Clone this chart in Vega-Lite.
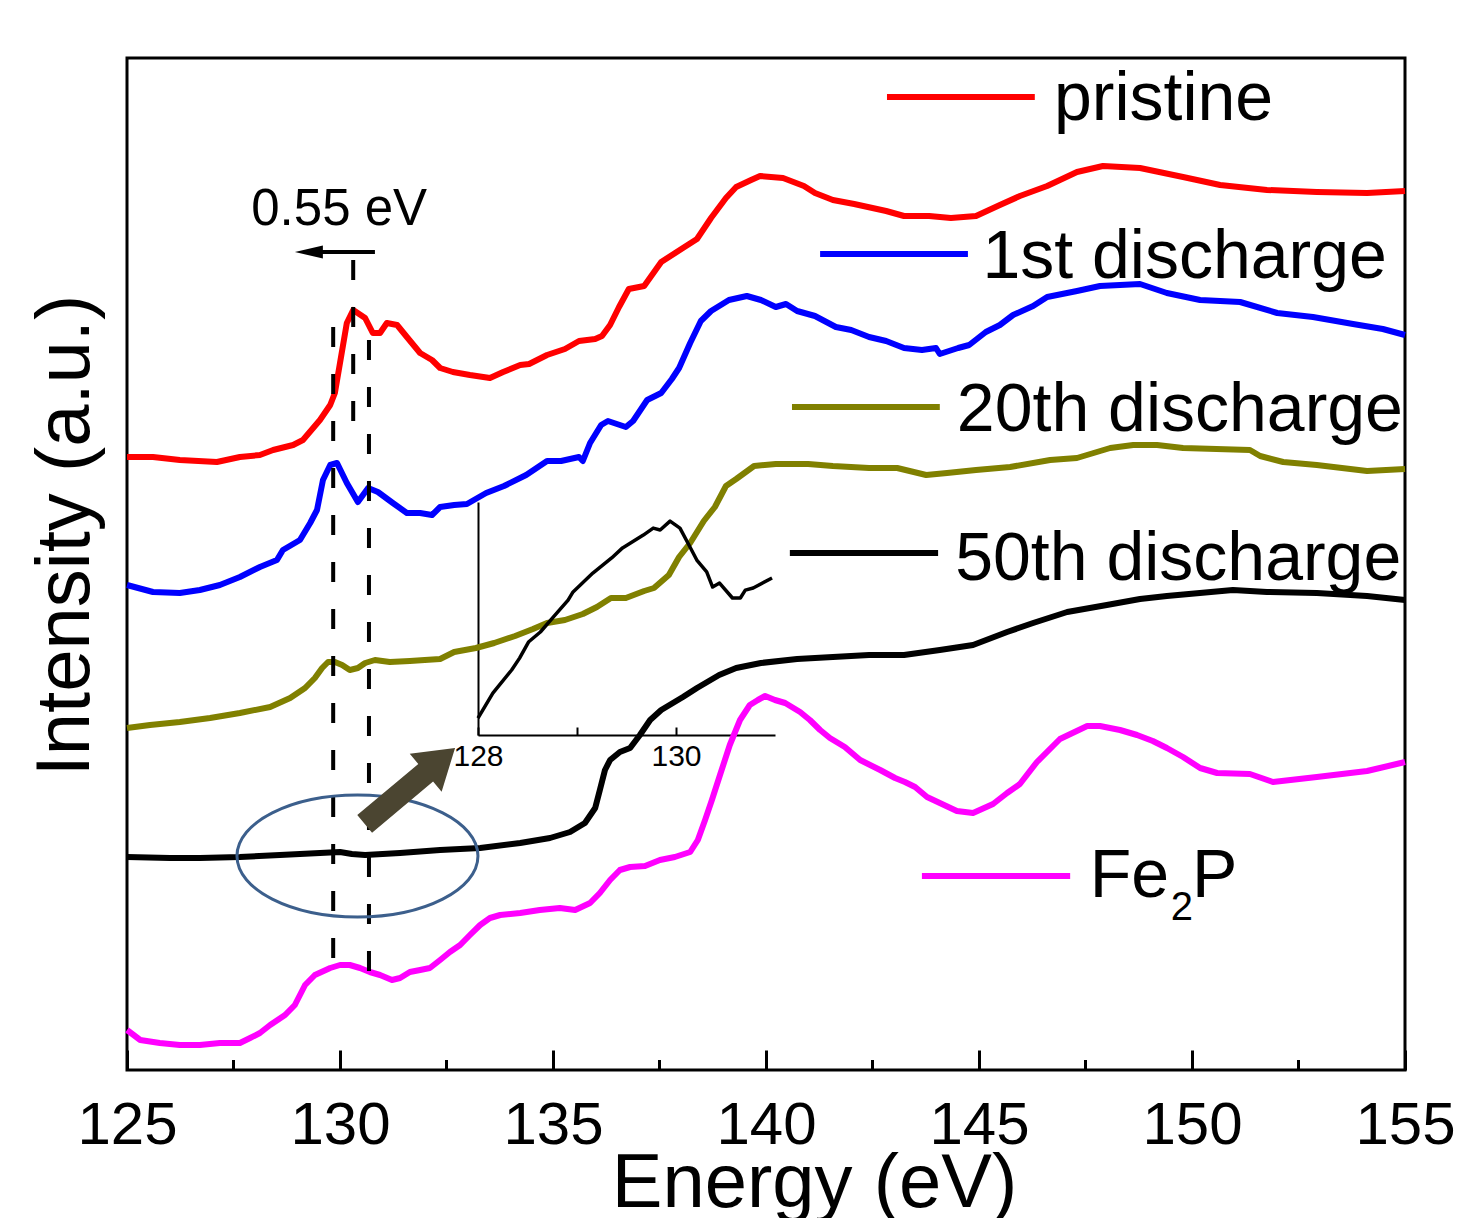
{
  "$schema": "https://vega.github.io/schema/vega-lite/v6.json",
  "width": 1278,
  "height": 1012,
  "autosize": {"type": "none"},
  "padding": {"left": 127, "top": 58, "right": 60, "bottom": 148},
  "background": "white",
  "config": {
    "view": {"stroke": "black", "strokeWidth": 3},
    "font": "Liberation Sans",
    "axis": {"grid": false}
  },
  "datasets": {
    "spectra": [
      {"series": "pristine", "E": 125.00, "I": 6.13},
      {"series": "pristine", "E": 125.61, "I": 6.13},
      {"series": "pristine", "E": 126.24, "I": 6.10},
      {"series": "pristine", "E": 127.11, "I": 6.08},
      {"series": "pristine", "E": 127.65, "I": 6.13},
      {"series": "pristine", "E": 128.12, "I": 6.15},
      {"series": "pristine", "E": 128.43, "I": 6.20},
      {"series": "pristine", "E": 128.90, "I": 6.25},
      {"series": "pristine", "E": 129.13, "I": 6.30},
      {"series": "pristine", "E": 129.53, "I": 6.50},
      {"series": "pristine", "E": 129.77, "I": 6.65},
      {"series": "pristine", "E": 129.88, "I": 6.77},
      {"series": "pristine", "E": 130.00, "I": 7.07},
      {"series": "pristine", "E": 130.16, "I": 7.47},
      {"series": "pristine", "E": 130.31, "I": 7.60},
      {"series": "pristine", "E": 130.59, "I": 7.52},
      {"series": "pristine", "E": 130.77, "I": 7.37},
      {"series": "pristine", "E": 130.94, "I": 7.37},
      {"series": "pristine", "E": 131.10, "I": 7.47},
      {"series": "pristine", "E": 131.34, "I": 7.45},
      {"series": "pristine", "E": 131.57, "I": 7.33},
      {"series": "pristine", "E": 131.88, "I": 7.17},
      {"series": "pristine", "E": 132.16, "I": 7.10},
      {"series": "pristine", "E": 132.35, "I": 7.02},
      {"series": "pristine", "E": 132.65, "I": 6.98},
      {"series": "pristine", "E": 133.05, "I": 6.95},
      {"series": "pristine", "E": 133.52, "I": 6.92},
      {"series": "pristine", "E": 133.83, "I": 6.98},
      {"series": "pristine", "E": 134.23, "I": 7.05},
      {"series": "pristine", "E": 134.44, "I": 7.06},
      {"series": "pristine", "E": 134.86, "I": 7.15},
      {"series": "pristine", "E": 135.28, "I": 7.21},
      {"series": "pristine", "E": 135.61, "I": 7.29},
      {"series": "pristine", "E": 135.99, "I": 7.31},
      {"series": "pristine", "E": 136.15, "I": 7.34},
      {"series": "pristine", "E": 136.34, "I": 7.45},
      {"series": "pristine", "E": 136.55, "I": 7.63},
      {"series": "pristine", "E": 136.78, "I": 7.81},
      {"series": "pristine", "E": 137.14, "I": 7.84},
      {"series": "pristine", "E": 137.54, "I": 8.08},
      {"series": "pristine", "E": 138.05, "I": 8.22},
      {"series": "pristine", "E": 138.38, "I": 8.31},
      {"series": "pristine", "E": 138.71, "I": 8.52},
      {"series": "pristine", "E": 139.06, "I": 8.72},
      {"series": "pristine", "E": 139.30, "I": 8.83},
      {"series": "pristine", "E": 139.65, "I": 8.90},
      {"series": "pristine", "E": 139.86, "I": 8.94},
      {"series": "pristine", "E": 140.40, "I": 8.92},
      {"series": "pristine", "E": 140.89, "I": 8.84},
      {"series": "pristine", "E": 141.15, "I": 8.77},
      {"series": "pristine", "E": 141.57, "I": 8.70},
      {"series": "pristine", "E": 142.07, "I": 8.66},
      {"series": "pristine", "E": 142.82, "I": 8.59},
      {"series": "pristine", "E": 143.24, "I": 8.54},
      {"series": "pristine", "E": 143.83, "I": 8.54},
      {"series": "pristine", "E": 144.34, "I": 8.52},
      {"series": "pristine", "E": 144.93, "I": 8.54},
      {"series": "pristine", "E": 145.49, "I": 8.65},
      {"series": "pristine", "E": 145.96, "I": 8.74},
      {"series": "pristine", "E": 146.60, "I": 8.84},
      {"series": "pristine", "E": 147.30, "I": 8.98},
      {"series": "pristine", "E": 147.91, "I": 9.04},
      {"series": "pristine", "E": 148.78, "I": 9.02},
      {"series": "pristine", "E": 149.79, "I": 8.93},
      {"series": "pristine", "E": 150.66, "I": 8.85},
      {"series": "pristine", "E": 151.76, "I": 8.80},
      {"series": "pristine", "E": 152.93, "I": 8.78},
      {"series": "pristine", "E": 154.11, "I": 8.77},
      {"series": "pristine", "E": 155.00, "I": 8.79},

      {"series": "1st discharge", "E": 125.00, "I": 4.85},
      {"series": "1st discharge", "E": 125.61, "I": 4.78},
      {"series": "1st discharge", "E": 126.24, "I": 4.77},
      {"series": "1st discharge", "E": 126.71, "I": 4.80},
      {"series": "1st discharge", "E": 127.18, "I": 4.85},
      {"series": "1st discharge", "E": 127.65, "I": 4.93},
      {"series": "1st discharge", "E": 128.12, "I": 5.03},
      {"series": "1st discharge", "E": 128.52, "I": 5.10},
      {"series": "1st discharge", "E": 128.66, "I": 5.20},
      {"series": "1st discharge", "E": 129.06, "I": 5.30},
      {"series": "1st discharge", "E": 129.30, "I": 5.47},
      {"series": "1st discharge", "E": 129.46, "I": 5.60},
      {"series": "1st discharge", "E": 129.60, "I": 5.90},
      {"series": "1st discharge", "E": 129.77, "I": 6.05},
      {"series": "1st discharge", "E": 129.93, "I": 6.07},
      {"series": "1st discharge", "E": 130.16, "I": 5.87},
      {"series": "1st discharge", "E": 130.42, "I": 5.68},
      {"series": "1st discharge", "E": 130.66, "I": 5.82},
      {"series": "1st discharge", "E": 130.89, "I": 5.78},
      {"series": "1st discharge", "E": 131.24, "I": 5.67},
      {"series": "1st discharge", "E": 131.57, "I": 5.57},
      {"series": "1st discharge", "E": 131.88, "I": 5.57},
      {"series": "1st discharge", "E": 132.16, "I": 5.55},
      {"series": "1st discharge", "E": 132.35, "I": 5.63},
      {"series": "1st discharge", "E": 132.68, "I": 5.65},
      {"series": "1st discharge", "E": 132.98, "I": 5.66},
      {"series": "1st discharge", "E": 133.43, "I": 5.77},
      {"series": "1st discharge", "E": 133.85, "I": 5.84},
      {"series": "1st discharge", "E": 134.37, "I": 5.95},
      {"series": "1st discharge", "E": 134.86, "I": 6.09},
      {"series": "1st discharge", "E": 135.19, "I": 6.09},
      {"series": "1st discharge", "E": 135.61, "I": 6.13},
      {"series": "1st discharge", "E": 135.70, "I": 6.09},
      {"series": "1st discharge", "E": 135.87, "I": 6.27},
      {"series": "1st discharge", "E": 136.13, "I": 6.45},
      {"series": "1st discharge", "E": 136.29, "I": 6.49},
      {"series": "1st discharge", "E": 136.71, "I": 6.43},
      {"series": "1st discharge", "E": 136.88, "I": 6.49},
      {"series": "1st discharge", "E": 137.21, "I": 6.70},
      {"series": "1st discharge", "E": 137.54, "I": 6.77},
      {"series": "1st discharge", "E": 137.79, "I": 6.91},
      {"series": "1st discharge", "E": 137.96, "I": 7.02},
      {"series": "1st discharge", "E": 138.22, "I": 7.27},
      {"series": "1st discharge", "E": 138.47, "I": 7.49},
      {"series": "1st discharge", "E": 138.71, "I": 7.59},
      {"series": "1st discharge", "E": 139.13, "I": 7.70},
      {"series": "1st discharge", "E": 139.55, "I": 7.74},
      {"series": "1st discharge", "E": 139.88, "I": 7.70},
      {"series": "1st discharge", "E": 140.23, "I": 7.63},
      {"series": "1st discharge", "E": 140.47, "I": 7.66},
      {"series": "1st discharge", "E": 140.73, "I": 7.59},
      {"series": "1st discharge", "E": 141.15, "I": 7.54},
      {"series": "1st discharge", "E": 141.64, "I": 7.43},
      {"series": "1st discharge", "E": 142.00, "I": 7.40},
      {"series": "1st discharge", "E": 142.42, "I": 7.33},
      {"series": "1st discharge", "E": 142.82, "I": 7.29},
      {"series": "1st discharge", "E": 143.24, "I": 7.22},
      {"series": "1st discharge", "E": 143.66, "I": 7.20},
      {"series": "1st discharge", "E": 143.99, "I": 7.22},
      {"series": "1st discharge", "E": 144.08, "I": 7.16},
      {"series": "1st discharge", "E": 144.51, "I": 7.22},
      {"series": "1st discharge", "E": 144.77, "I": 7.25},
      {"series": "1st discharge", "E": 145.16, "I": 7.38},
      {"series": "1st discharge", "E": 145.49, "I": 7.45},
      {"series": "1st discharge", "E": 145.80, "I": 7.55},
      {"series": "1st discharge", "E": 146.27, "I": 7.64},
      {"series": "1st discharge", "E": 146.60, "I": 7.73},
      {"series": "1st discharge", "E": 147.30, "I": 7.79},
      {"series": "1st discharge", "E": 147.84, "I": 7.84},
      {"series": "1st discharge", "E": 148.78, "I": 7.86},
      {"series": "1st discharge", "E": 149.41, "I": 7.77},
      {"series": "1st discharge", "E": 150.19, "I": 7.70},
      {"series": "1st discharge", "E": 151.13, "I": 7.68},
      {"series": "1st discharge", "E": 152.00, "I": 7.57},
      {"series": "1st discharge", "E": 152.84, "I": 7.53},
      {"series": "1st discharge", "E": 153.78, "I": 7.46},
      {"series": "1st discharge", "E": 154.48, "I": 7.41},
      {"series": "1st discharge", "E": 155.00, "I": 7.35},

      {"series": "20th discharge", "E": 125.00, "I": 3.42},
      {"series": "20th discharge", "E": 125.54, "I": 3.45},
      {"series": "20th discharge", "E": 126.24, "I": 3.48},
      {"series": "20th discharge", "E": 126.95, "I": 3.52},
      {"series": "20th discharge", "E": 127.65, "I": 3.57},
      {"series": "20th discharge", "E": 128.36, "I": 3.63},
      {"series": "20th discharge", "E": 128.83, "I": 3.72},
      {"series": "20th discharge", "E": 129.18, "I": 3.82},
      {"series": "20th discharge", "E": 129.41, "I": 3.92},
      {"series": "20th discharge", "E": 129.58, "I": 4.02},
      {"series": "20th discharge", "E": 129.72, "I": 4.08},
      {"series": "20th discharge", "E": 129.88, "I": 4.08},
      {"series": "20th discharge", "E": 130.05, "I": 4.05},
      {"series": "20th discharge", "E": 130.23, "I": 4.00},
      {"series": "20th discharge", "E": 130.42, "I": 4.02},
      {"series": "20th discharge", "E": 130.59, "I": 4.07},
      {"series": "20th discharge", "E": 130.82, "I": 4.10},
      {"series": "20th discharge", "E": 131.17, "I": 4.08},
      {"series": "20th discharge", "E": 131.64, "I": 4.09},
      {"series": "20th discharge", "E": 131.99, "I": 4.10},
      {"series": "20th discharge", "E": 132.35, "I": 4.11},
      {"series": "20th discharge", "E": 132.68, "I": 4.18},
      {"series": "20th discharge", "E": 133.19, "I": 4.22},
      {"series": "20th discharge", "E": 133.62, "I": 4.27},
      {"series": "20th discharge", "E": 134.11, "I": 4.34},
      {"series": "20th discharge", "E": 134.53, "I": 4.41},
      {"series": "20th discharge", "E": 134.86, "I": 4.47},
      {"series": "20th discharge", "E": 135.28, "I": 4.50},
      {"series": "20th discharge", "E": 135.70, "I": 4.56},
      {"series": "20th discharge", "E": 136.03, "I": 4.63},
      {"series": "20th discharge", "E": 136.36, "I": 4.72},
      {"series": "20th discharge", "E": 136.71, "I": 4.72},
      {"series": "20th discharge", "E": 137.14, "I": 4.79},
      {"series": "20th discharge", "E": 137.37, "I": 4.82},
      {"series": "20th discharge", "E": 137.72, "I": 4.95},
      {"series": "20th discharge", "E": 137.96, "I": 5.13},
      {"series": "20th discharge", "E": 138.22, "I": 5.27},
      {"series": "20th discharge", "E": 138.54, "I": 5.49},
      {"series": "20th discharge", "E": 138.80, "I": 5.63},
      {"series": "20th discharge", "E": 139.06, "I": 5.84},
      {"series": "20th discharge", "E": 139.30, "I": 5.91},
      {"series": "20th discharge", "E": 139.72, "I": 6.04},
      {"series": "20th discharge", "E": 140.23, "I": 6.06},
      {"series": "20th discharge", "E": 140.99, "I": 6.06},
      {"series": "20th discharge", "E": 141.57, "I": 6.04},
      {"series": "20th discharge", "E": 142.42, "I": 6.02},
      {"series": "20th discharge", "E": 143.08, "I": 6.02},
      {"series": "20th discharge", "E": 143.76, "I": 5.95},
      {"series": "20th discharge", "E": 144.25, "I": 5.97},
      {"series": "20th discharge", "E": 144.93, "I": 6.00},
      {"series": "20th discharge", "E": 145.73, "I": 6.03},
      {"series": "20th discharge", "E": 146.67, "I": 6.10},
      {"series": "20th discharge", "E": 147.30, "I": 6.12},
      {"series": "20th discharge", "E": 148.08, "I": 6.22},
      {"series": "20th discharge", "E": 148.62, "I": 6.25},
      {"series": "20th discharge", "E": 149.18, "I": 6.25},
      {"series": "20th discharge", "E": 149.79, "I": 6.22},
      {"series": "20th discharge", "E": 151.36, "I": 6.20},
      {"series": "20th discharge", "E": 151.60, "I": 6.14},
      {"series": "20th discharge", "E": 152.14, "I": 6.08},
      {"series": "20th discharge", "E": 152.93, "I": 6.05},
      {"series": "20th discharge", "E": 154.11, "I": 5.99},
      {"series": "20th discharge", "E": 155.00, "I": 6.01},

      {"series": "50th discharge", "E": 125.00, "I": 2.13},
      {"series": "50th discharge", "E": 126.01, "I": 2.12},
      {"series": "50th discharge", "E": 126.71, "I": 2.12},
      {"series": "50th discharge", "E": 127.65, "I": 2.13},
      {"series": "50th discharge", "E": 128.59, "I": 2.15},
      {"series": "50th discharge", "E": 129.53, "I": 2.17},
      {"series": "50th discharge", "E": 130.00, "I": 2.18},
      {"series": "50th discharge", "E": 130.28, "I": 2.16},
      {"series": "50th discharge", "E": 130.59, "I": 2.15},
      {"series": "50th discharge", "E": 131.41, "I": 2.17},
      {"series": "50th discharge", "E": 132.35, "I": 2.20},
      {"series": "50th discharge", "E": 133.29, "I": 2.22},
      {"series": "50th discharge", "E": 134.23, "I": 2.27},
      {"series": "50th discharge", "E": 134.93, "I": 2.32},
      {"series": "50th discharge", "E": 135.40, "I": 2.38},
      {"series": "50th discharge", "E": 135.75, "I": 2.47},
      {"series": "50th discharge", "E": 135.99, "I": 2.62},
      {"series": "50th discharge", "E": 136.10, "I": 2.80},
      {"series": "50th discharge", "E": 136.22, "I": 3.00},
      {"series": "50th discharge", "E": 136.34, "I": 3.10},
      {"series": "50th discharge", "E": 136.57, "I": 3.18},
      {"series": "50th discharge", "E": 136.81, "I": 3.22},
      {"series": "50th discharge", "E": 137.04, "I": 3.35},
      {"series": "50th discharge", "E": 137.28, "I": 3.50},
      {"series": "50th discharge", "E": 137.54, "I": 3.60},
      {"series": "50th discharge", "E": 138.05, "I": 3.73},
      {"series": "50th discharge", "E": 138.38, "I": 3.82},
      {"series": "50th discharge", "E": 138.90, "I": 3.95},
      {"series": "50th discharge", "E": 139.30, "I": 4.02},
      {"series": "50th discharge", "E": 139.88, "I": 4.07},
      {"series": "50th discharge", "E": 140.73, "I": 4.11},
      {"series": "50th discharge", "E": 141.57, "I": 4.13},
      {"series": "50th discharge", "E": 142.42, "I": 4.15},
      {"series": "50th discharge", "E": 143.24, "I": 4.15},
      {"series": "50th discharge", "E": 144.08, "I": 4.20},
      {"series": "50th discharge", "E": 144.86, "I": 4.25},
      {"series": "50th discharge", "E": 145.66, "I": 4.38},
      {"series": "50th discharge", "E": 146.27, "I": 4.47},
      {"series": "50th discharge", "E": 147.07, "I": 4.58},
      {"series": "50th discharge", "E": 148.00, "I": 4.65},
      {"series": "50th discharge", "E": 148.78, "I": 4.71},
      {"series": "50th discharge", "E": 149.41, "I": 4.74},
      {"series": "50th discharge", "E": 150.96, "I": 4.80},
      {"series": "50th discharge", "E": 151.76, "I": 4.78},
      {"series": "50th discharge", "E": 152.93, "I": 4.77},
      {"series": "50th discharge", "E": 154.11, "I": 4.74},
      {"series": "50th discharge", "E": 155.00, "I": 4.70},

      {"series": "Fe2P", "E": 125.00, "I": 0.40},
      {"series": "Fe2P", "E": 125.31, "I": 0.30},
      {"series": "Fe2P", "E": 125.77, "I": 0.27},
      {"series": "Fe2P", "E": 126.24, "I": 0.25},
      {"series": "Fe2P", "E": 126.71, "I": 0.25},
      {"series": "Fe2P", "E": 127.18, "I": 0.27},
      {"series": "Fe2P", "E": 127.65, "I": 0.27},
      {"series": "Fe2P", "E": 127.89, "I": 0.32},
      {"series": "Fe2P", "E": 128.12, "I": 0.37},
      {"series": "Fe2P", "E": 128.36, "I": 0.45},
      {"series": "Fe2P", "E": 128.71, "I": 0.55},
      {"series": "Fe2P", "E": 128.94, "I": 0.65},
      {"series": "Fe2P", "E": 129.18, "I": 0.85},
      {"series": "Fe2P", "E": 129.41, "I": 0.95},
      {"series": "Fe2P", "E": 129.77, "I": 1.02},
      {"series": "Fe2P", "E": 130.00, "I": 1.05},
      {"series": "Fe2P", "E": 130.23, "I": 1.05},
      {"series": "Fe2P", "E": 130.47, "I": 1.02},
      {"series": "Fe2P", "E": 130.70, "I": 0.98},
      {"series": "Fe2P", "E": 130.94, "I": 0.95},
      {"series": "Fe2P", "E": 131.22, "I": 0.90},
      {"series": "Fe2P", "E": 131.41, "I": 0.92},
      {"series": "Fe2P", "E": 131.64, "I": 0.98},
      {"series": "Fe2P", "E": 131.88, "I": 1.00},
      {"series": "Fe2P", "E": 132.11, "I": 1.02},
      {"series": "Fe2P", "E": 132.35, "I": 1.10},
      {"series": "Fe2P", "E": 132.58, "I": 1.18},
      {"series": "Fe2P", "E": 132.82, "I": 1.25},
      {"series": "Fe2P", "E": 133.05, "I": 1.35},
      {"series": "Fe2P", "E": 133.29, "I": 1.45},
      {"series": "Fe2P", "E": 133.52, "I": 1.52},
      {"series": "Fe2P", "E": 133.76, "I": 1.55},
      {"series": "Fe2P", "E": 134.23, "I": 1.57},
      {"series": "Fe2P", "E": 134.69, "I": 1.60},
      {"series": "Fe2P", "E": 135.16, "I": 1.62},
      {"series": "Fe2P", "E": 135.52, "I": 1.60},
      {"series": "Fe2P", "E": 135.87, "I": 1.67},
      {"series": "Fe2P", "E": 136.10, "I": 1.77},
      {"series": "Fe2P", "E": 136.34, "I": 1.90},
      {"series": "Fe2P", "E": 136.57, "I": 2.00},
      {"series": "Fe2P", "E": 136.81, "I": 2.03},
      {"series": "Fe2P", "E": 137.16, "I": 2.04},
      {"series": "Fe2P", "E": 137.51, "I": 2.10},
      {"series": "Fe2P", "E": 137.86, "I": 2.13},
      {"series": "Fe2P", "E": 138.22, "I": 2.18},
      {"series": "Fe2P", "E": 138.40, "I": 2.30},
      {"series": "Fe2P", "E": 138.57, "I": 2.50},
      {"series": "Fe2P", "E": 138.73, "I": 2.70},
      {"series": "Fe2P", "E": 138.92, "I": 2.95},
      {"series": "Fe2P", "E": 139.15, "I": 3.25},
      {"series": "Fe2P", "E": 139.39, "I": 3.50},
      {"series": "Fe2P", "E": 139.62, "I": 3.65},
      {"series": "Fe2P", "E": 139.81, "I": 3.70},
      {"series": "Fe2P", "E": 139.98, "I": 3.74},
      {"series": "Fe2P", "E": 140.21, "I": 3.70},
      {"series": "Fe2P", "E": 140.45, "I": 3.67},
      {"series": "Fe2P", "E": 140.80, "I": 3.58},
      {"series": "Fe2P", "E": 141.03, "I": 3.50},
      {"series": "Fe2P", "E": 141.27, "I": 3.40},
      {"series": "Fe2P", "E": 141.50, "I": 3.32},
      {"series": "Fe2P", "E": 141.85, "I": 3.23},
      {"series": "Fe2P", "E": 142.21, "I": 3.10},
      {"series": "Fe2P", "E": 142.68, "I": 3.00},
      {"series": "Fe2P", "E": 143.03, "I": 2.92},
      {"series": "Fe2P", "E": 143.26, "I": 2.88},
      {"series": "Fe2P", "E": 143.50, "I": 2.83},
      {"series": "Fe2P", "E": 143.78, "I": 2.73},
      {"series": "Fe2P", "E": 144.08, "I": 2.67},
      {"series": "Fe2P", "E": 144.48, "I": 2.59},
      {"series": "Fe2P", "E": 144.86, "I": 2.57},
      {"series": "Fe2P", "E": 145.33, "I": 2.66},
      {"series": "Fe2P", "E": 145.66, "I": 2.77},
      {"series": "Fe2P", "E": 145.96, "I": 2.86},
      {"series": "Fe2P", "E": 146.36, "I": 3.08},
      {"series": "Fe2P", "E": 146.90, "I": 3.31},
      {"series": "Fe2P", "E": 147.54, "I": 3.44},
      {"series": "Fe2P", "E": 147.84, "I": 3.44},
      {"series": "Fe2P", "E": 148.31, "I": 3.40},
      {"series": "Fe2P", "E": 148.71, "I": 3.35},
      {"series": "Fe2P", "E": 149.08, "I": 3.29},
      {"series": "Fe2P", "E": 149.41, "I": 3.22},
      {"series": "Fe2P", "E": 149.79, "I": 3.13},
      {"series": "Fe2P", "E": 150.19, "I": 3.02},
      {"series": "Fe2P", "E": 150.59, "I": 2.97},
      {"series": "Fe2P", "E": 151.36, "I": 2.96},
      {"series": "Fe2P", "E": 151.90, "I": 2.88},
      {"series": "Fe2P", "E": 152.93, "I": 2.93},
      {"series": "Fe2P", "E": 154.11, "I": 2.99},
      {"series": "Fe2P", "E": 155.00, "I": 3.08}
    ],
    "inset": [
      {"E": 128.00, "I": 0.072},
      {"E": 128.15, "I": 0.180},
      {"E": 128.34, "I": 0.279},
      {"E": 128.42, "I": 0.330},
      {"E": 128.51, "I": 0.399},
      {"E": 128.63, "I": 0.442},
      {"E": 128.76, "I": 0.506},
      {"E": 128.91, "I": 0.579},
      {"E": 128.96, "I": 0.614},
      {"E": 129.16, "I": 0.695},
      {"E": 129.35, "I": 0.760},
      {"E": 129.46, "I": 0.803},
      {"E": 129.67, "I": 0.858},
      {"E": 129.77, "I": 0.888},
      {"E": 129.84, "I": 0.880},
      {"E": 129.94, "I": 0.918},
      {"E": 130.04, "I": 0.888},
      {"E": 130.12, "I": 0.824},
      {"E": 130.21, "I": 0.751},
      {"E": 130.31, "I": 0.700},
      {"E": 130.37, "I": 0.635},
      {"E": 130.44, "I": 0.652},
      {"E": 130.57, "I": 0.588},
      {"E": 130.65, "I": 0.588},
      {"E": 130.70, "I": 0.622},
      {"E": 130.78, "I": 0.631},
      {"E": 130.97, "I": 0.674}
    ]
  },
  "layer": [
    {
      "layer": [
        {
          "data": {"values": [
            {"E": 127.5, "I": 0, "I2": 0.1},
            {"E": 132.5, "I": 0, "I2": 0.1},
            {"E": 137.5, "I": 0, "I2": 0.1},
            {"E": 142.5, "I": 0, "I2": 0.1},
            {"E": 147.5, "I": 0, "I2": 0.1},
            {"E": 152.5, "I": 0, "I2": 0.1}
          ]},
          "mark": {"type": "rule", "color": "black", "strokeWidth": 3},
          "encoding": {
            "x": {"field": "E", "type": "quantitative",
              "scale": {"domain": [125, 155], "nice": false, "zero": false},
              "axis": {"orient": "bottom", "values": [125, 130, 135, 140, 145, 150, 155],
                "tickSize": -20, "tickWidth": 3, "tickColor": "black", "domain": false, "grid": false,
                "labelFontSize": 60, "labelFont": "Liberation Sans", "labelColor": "black",
                "labelBaseline": "alphabetic", "labelPadding": 93, "labelFlush": false, "labelOverlap": false, "labelBound": false,
                "title": "Energy (eV)", "titleFontSize": 76, "titleFont": "Liberation Sans", "titleFontWeight": "normal",
                "titleColor": "black", "titleX": 687, "titleY": 136, "titleBaseline": "alphabetic", "titleAlign": "center"}},
            "y": {"field": "I", "type": "quantitative",
              "scale": {"domain": [0, 10.12], "nice": false, "zero": false},
              "axis": {"orient": "left", "labels": false, "ticks": false, "domain": false, "grid": false,
                "title": "Intensity (a.u.)", "titleFontSize": 76, "titleFont": "Liberation Sans", "titleFontWeight": "normal",
                "titleColor": "black", "titleX": -39, "titleY": 477, "titleAngle": 270, "titleAlign": "center", "titleBaseline": "alphabetic"}},
            "y2": {"field": "I2"}
          }
        },
        {
          "data": {"name": "spectra"},
          "mark": {"type": "line", "strokeWidth": 6, "strokeJoin": "round"},
          "encoding": {
            "x": {"field": "E", "type": "quantitative"},
            "y": {"field": "I", "type": "quantitative"},
            "color": {"field": "series", "type": "nominal",
              "scale": {"domain": ["pristine", "1st discharge", "20th discharge", "50th discharge", "Fe2P"],
                "range": ["#FF0000", "#0000FF", "#808000", "#000000", "#FF00FF"]},
              "legend": null}
          }
        },
        {
          "data": {"values": [
            {"series": "pristine", "E": 142.84, "E2": 146.31, "I": 9.73},
            {"series": "1st discharge", "E": 141.27, "E2": 144.74, "I": 8.16},
            {"series": "20th discharge", "E": 140.61, "E2": 144.08, "I": 6.63},
            {"series": "50th discharge", "E": 140.56, "E2": 144.04, "I": 5.17},
            {"series": "Fe2P", "E": 143.66, "E2": 147.14, "I": 1.94}
          ]},
          "mark": {"type": "rule", "strokeWidth": 6},
          "encoding": {
            "x": {"field": "E", "type": "quantitative"},
            "x2": {"field": "E2"},
            "y": {"field": "I", "type": "quantitative"},
            "color": {"field": "series", "type": "nominal", "legend": null}
          }
        },
        {
          "data": {"values": [
            {"label": "pristine", "E": 146.76, "I": 9.50},
            {"label": "1st discharge", "E": 145.08, "I": 7.92},
            {"label": "20th discharge", "E": 144.48, "I": 6.39},
            {"label": "50th discharge", "E": 144.44, "I": 4.90},
            {"label": "Fe", "E": 147.60, "I": 1.73},
            {"label": "P", "E": 150.00, "I": 1.73}
          ]},
          "mark": {"type": "text", "align": "left", "baseline": "alphabetic", "fontSize": 68, "font": "Liberation Sans", "color": "black"},
          "encoding": {
            "x": {"field": "E", "type": "quantitative"},
            "y": {"field": "I", "type": "quantitative"},
            "text": {"field": "label"}
          }
        },
        {
          "data": {"values": [{"label": "2", "E": 149.50, "I": 1.50}]},
          "mark": {"type": "text", "align": "left", "baseline": "alphabetic", "fontSize": 40, "font": "Liberation Sans", "color": "black"},
          "encoding": {
            "x": {"field": "E", "type": "quantitative"},
            "y": {"field": "I", "type": "quantitative"},
            "text": {"field": "label"}
          }
        },
        {
          "data": {"values": [{"label": "0.55 eV", "E": 129.98, "I": 8.45}]},
          "mark": {"type": "text", "align": "center", "baseline": "alphabetic", "fontSize": 51, "font": "Liberation Sans", "color": "black"},
          "encoding": {
            "x": {"field": "E", "type": "quantitative"},
            "y": {"field": "I", "type": "quantitative"},
            "text": {"field": "label"}
          }
        },
        {
          "data": {"values": [
            {"E": 129.84, "I": 7.43, "I2": 0.95},
            {"E": 130.31, "I": 8.10, "I2": 6.42},
            {"E": 130.68, "I": 7.30, "I2": 0.80}
          ]},
          "mark": {"type": "rule", "color": "black", "strokeWidth": 4, "strokeDash": [20, 27]},
          "encoding": {
            "x": {"field": "E", "type": "quantitative"},
            "y": {"field": "I", "type": "quantitative"},
            "y2": {"field": "I2"}
          }
        },
        {
          "data": {"values": [{"E": 129.45, "E2": 130.82, "I": 8.18}]},
          "mark": {"type": "rule", "color": "black", "strokeWidth": 4},
          "encoding": {
            "x": {"field": "E", "type": "quantitative"},
            "x2": {"field": "E2"},
            "y": {"field": "I", "type": "quantitative"}
          }
        },
        {
          "data": {"values": [{"E": 129.27, "I": 8.18}]},
          "mark": {"type": "point", "filled": true, "color": "black", "opacity": 1, "size": 784,
            "shape": "M-1,0L1,-0.47L1,0.47Z"},
          "encoding": {
            "x": {"field": "E", "type": "quantitative"},
            "y": {"field": "I", "type": "quantitative"}
          }
        },
        {
          "data": {"values": [{"E": 130.41, "I": 2.14}]},
          "mark": {"type": "point", "filled": false, "color": "#3C5F8C", "strokeWidth": 3, "opacity": 1, "size": 58081,
            "shape": "M-1,0A1,0.506 0 1,0 1,0A1,0.506 0 1,0 -1,0Z"},
          "encoding": {
            "x": {"field": "E", "type": "quantitative"},
            "y": {"field": "I", "type": "quantitative"}
          }
        },
        {
          "data": {"values": [{"E": 131.64, "I": 2.84}]},
          "mark": {"type": "point", "filled": true, "color": "#4B4531", "opacity": 1, "size": 13924, "angle": 320,
            "shape": "M-1,-0.195L0.35,-0.195L0.35,-0.42L1,0L0.35,0.42L0.35,0.195L-1,0.195Z"},
          "encoding": {
            "x": {"field": "E", "type": "quantitative"},
            "y": {"field": "I", "type": "quantitative"}
          }
        }
      ]
    },
    {
      "layer": [
        {
          "data": {"name": "inset"},
          "mark": {"type": "line", "color": "black", "strokeWidth": 3.5, "strokeJoin": "round"},
          "encoding": {
            "x": {"field": "E", "type": "quantitative",
              "scale": {"domain": [128, 131], "range": [351, 648], "nice": false, "zero": false},
              "axis": {"orient": "bottom", "offset": -335, "values": [128, 129, 130],
                "labelExpr": "datum.value == 129 ? '' : datum.label",
                "tickSize": -8, "tickWidth": 2, "tickColor": "black",
                "domain": true, "domainColor": "black", "domainWidth": 2, "grid": false,
                "labelFontSize": 30, "labelFont": "Liberation Sans", "labelColor": "black",
                "labelBaseline": "alphabetic", "labelPadding": 38, "labelFlush": false, "labelOverlap": false,
                "title": null}},
            "y": {"field": "I", "type": "quantitative",
              "scale": {"domain": [0, 1], "range": [677, 444], "nice": false, "zero": false},
              "axis": {"orient": "left", "offset": -351, "labels": false, "ticks": false,
                "domain": true, "domainColor": "black", "domainWidth": 2, "grid": false, "title": null}}
          }
        }
      ]
    }
  ],
  "resolve": {"scale": {"x": "independent", "y": "independent"}}
}
